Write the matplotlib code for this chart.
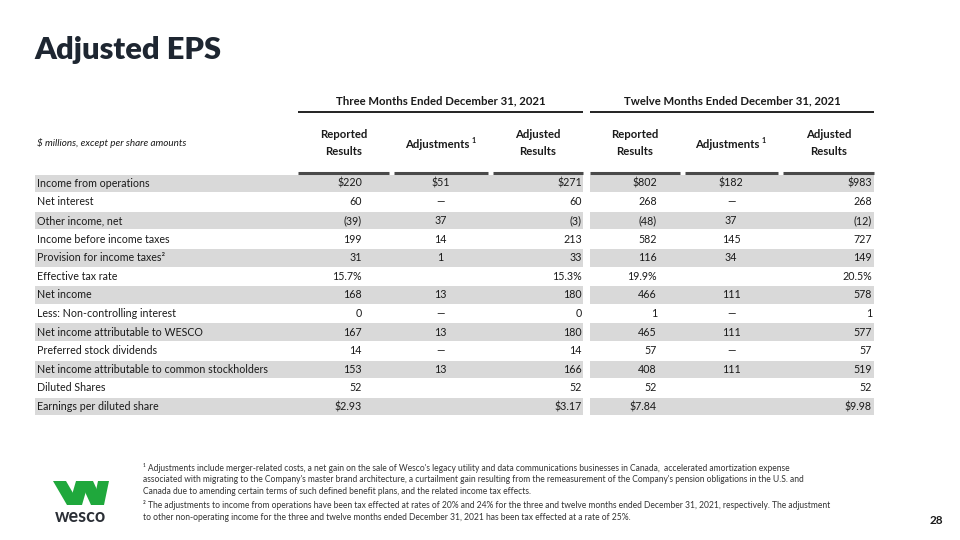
import matplotlib
matplotlib.use("Agg")
import matplotlib.pyplot as plt
from matplotlib.patches import Rectangle, Polygon

# ---------------- data ----------------
row_labels = [
    "Income from operations", "Net interest", "Other income, net",
    "Income before income taxes", "Provision for income taxes²",
    "Effective tax rate", "Net income", "Less: Non-controlling interest",
    "Net income attributable to WESCO", "Preferred stock dividends",
    "Net income attributable to common stockholders", "Diluted Shares",
    "Earnings per diluted share",
]
three_reported = ["$220", "60", "(39)", "199", "31", "15.7%", "168", "0", "167", "14", "153", "52", "$2.93"]
three_adjust = ["$51", "—", "37", "14", "1", "", "13", "—", "13", "—", "13", "", ""]
three_adjusted = ["$271", "60", "(3)", "213", "33", "15.3%", "180", "0", "180", "14", "166", "52", "$3.17"]
twelve_reported = ["$802", "268", "(48)", "582", "116", "19.9%", "466", "1", "465", "57", "408", "52", "$7.84"]
twelve_adjust = ["$182", "—", "37", "145", "34", "", "111", "—", "111", "—", "111", "", ""]
twelve_adjusted = ["$983", "268", "(12)", "727", "149", "20.5%", "578", "1", "577", "57", "519", "52", "$9.98"]

group_titles = ["Three Months Ended December 31, 2021", "Twelve Months Ended December 31, 2021"]
col_headers = ["Reported\nResults", "Adjustments", "Adjusted\nResults"]
units_note = "$ millions, except per share amounts"
title = "Adjusted EPS"
footnotes = [
    "¹ Adjustments include merger-related costs, a net gain on the sale of Wesco's legacy utility and data communications businesses in Canada,  accelerated amortization expense",
    "associated with migrating to the Company's master brand architecture, a curtailment gain resulting from the remeasurement of the Company's pension obligations in the U.S. and",
    "Canada due to amending certain terms of such defined benefit plans, and the related income tax effects.",
    "² The adjustments to income from operations have been tax effected at rates of 20% and 24% for the three and twelve months ended December 31, 2021, respectively. The adjustment",
    "to other non-operating income for the three and twelve months ended December 31, 2021 has been tax effected at a rate of 25%.",
]
page_number = "28"

# ---------------- layout ----------------
FONT = "Lato"
DARK = "#1a1a1a"
GRAY = "#d9d9d9"
groups = [
    {"x0": 298, "x1": 583, "cols": [(298, 389), (394, 488), (493, 583)],
     "data": [three_reported, three_adjust, three_adjusted], "num_x": [362, 440.5, 582]},
    {"x0": 590, "x1": 874, "cols": [(590, 680), (685, 778), (783, 874)],
     "data": [twelve_reported, twelve_adjust, twelve_adjusted], "num_x": [657, 731, 872]},
]
row_top0 = 174.5
row_h = 18.6
label_x0 = 35
BODY = 7.65
HEAD = 8.2

fig = plt.figure(figsize=(9.6, 5.4), dpi=100)
ax = fig.add_axes([0, 0, 1, 1])
ax.set_xlim(0, 960)
ax.set_ylim(540, 0)
ax.axis("off")

# title
ax.text(34, 50, title, fontsize=22.2, fontweight="heavy", family=FONT, color="#1e2631",
        va="center", ha="left")

# units note
ax.text(37, 143, units_note, fontsize=7.1, style="italic", family=FONT, color=DARK,
        va="center", ha="left")

# rows
for i in range(len(row_labels)):
    top = row_top0 + i * row_h
    if i % 2 == 0:
        ax.add_patch(Rectangle((label_x0, top), groups[0]["x1"] - label_x0, row_h - 1,
                               facecolor=GRAY, edgecolor="none"))
        ax.add_patch(Rectangle((groups[1]["x0"], top), groups[1]["x1"] - groups[1]["x0"], row_h - 1,
                               facecolor=GRAY, edgecolor="none"))
    yc = top + (row_h - 1) / 2
    ax.text(37, yc, row_labels[i], fontsize=BODY, family=FONT, color=DARK, va="center", ha="left")
    for g in groups:
        for j, vals in enumerate(g["data"]):
            ha = "center" if j == 1 else "right"
            ax.text(g["num_x"][j], yc, vals[i], fontsize=BODY, family=FONT, color=DARK,
                    va="center", ha=ha)

# headers
for g, gt in zip(groups, group_titles):
    ax.text((g["x0"] + g["x1"]) / 2, 101, gt, fontsize=HEAD, fontweight="bold", family=FONT,
            color=DARK, va="center", ha="center")
    ax.plot([g["x0"], g["x1"]], [112, 112], color="#111111", lw=1.3, solid_capstyle="butt")
    for (c0, c1), h in zip(g["cols"], col_headers):
        cx = (c0 + c1) / 2
        if "\n" in h:
            ax.text(cx, 143, h, fontsize=HEAD, fontweight="bold", family=FONT, color=DARK,
                    va="center", ha="center", linespacing=1.6)
        else:
            t = ax.text(cx - 4, 144, h, fontsize=HEAD, fontweight="bold", family=FONT, color=DARK,
                        va="center", ha="center")
            ax.annotate("1", xy=(1, 0.85), xycoords=t, xytext=(1.5, 0), textcoords="offset points",
                        fontsize=5.2, fontweight="bold", family=FONT, color=DARK,
                        va="center", ha="left")
        ax.plot([c0, c1], [173, 173], color="#4a4a4a", lw=2.2, solid_capstyle="butt")

# footnotes
for k, line in enumerate(footnotes):
    ax.text(143, 468 + k * 12 + (1 if k >= 3 else 0), line, fontsize=6.15, family=FONT,
            color="#333333", va="center", ha="left")

ax.text(936, 520, page_number, fontsize=8.5, fontweight="bold", family=FONT, color=DARK,
        va="center", ha="center")

# logo
green = "#1fa83c"
logo_w = [
    [(53, 481), (66, 481), (80, 505), (67, 505)],
    [(69, 505), (82, 505), (89, 481), (76, 481)],
    [(80, 481), (93, 481), (104, 505), (91, 505)],
    [(93, 505), (104, 505), (109, 481), (98, 481)],
]
for pts in logo_w:
    ax.add_patch(Polygon(pts, closed=True, facecolor=green, edgecolor="none"))
ax.text(80.5, 517, "wesco", fontsize=13, fontweight="bold", family=FONT, color="#2b2f36",
        va="center", ha="center")

fig.savefig("out.png", dpi=100, facecolor="white")
